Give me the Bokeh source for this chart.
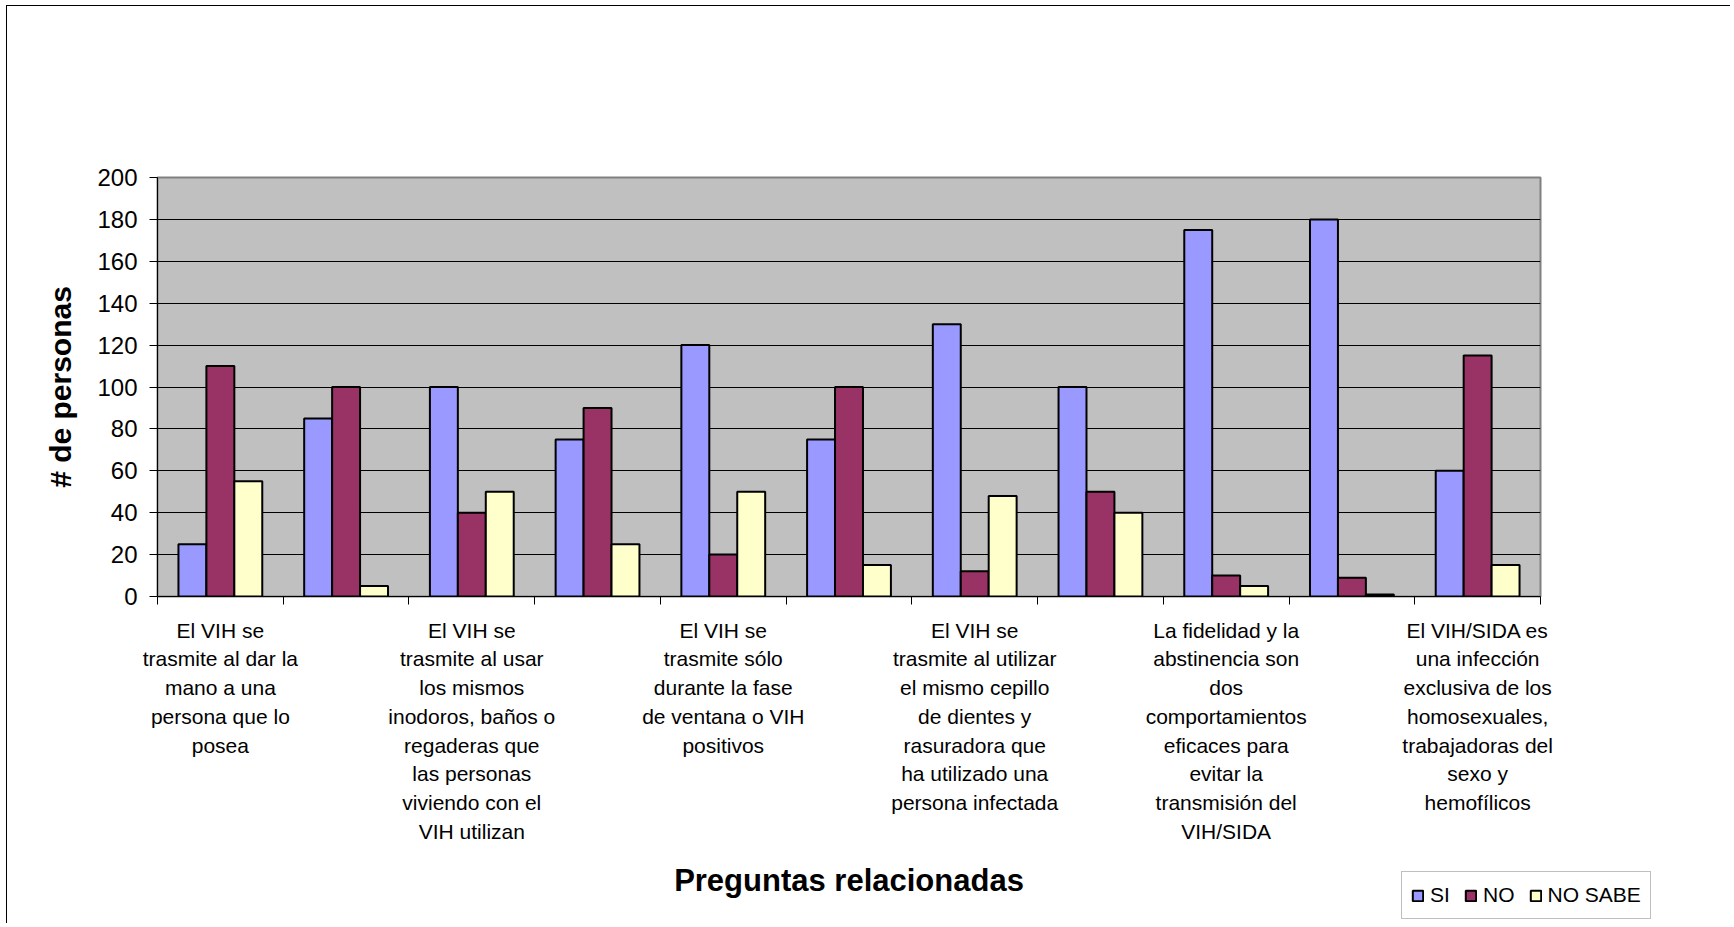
import numpy as np
from bokeh.plotting import figure
from bokeh.layouts import column
from bokeh.models import Range1d, FixedTicker, Legend, LegendItem
from bokeh.embed import file_html
from bokeh.resources import INLINE

# ---- data -----------------------------------------------------------------
# 11 questions; the chart (Excel-style) only prints every other category label,
# the skipped labels are kept empty here.
CATEGORIES = [
    "El VIH se\ntrasmite al dar la\nmano a una\npersona que lo\nposea",
    "",
    "El VIH se\ntrasmite al usar\nlos mismos\ninodoros, baños o\nregaderas que\nlas personas\nviviendo con el\nVIH utilizan",
    "",
    "El VIH se\ntrasmite sólo\ndurante la fase\nde ventana o VIH\npositivos",
    "",
    "El VIH se\ntrasmite al utilizar\nel mismo cepillo\nde dientes y\nrasuradora que\nha utilizado una\npersona infectada",
    "",
    "La fidelidad y la\nabstinencia son\ndos\ncomportamientos\neficaces para\nevitar la\ntransmisión del\nVIH/SIDA",
    "",
    "El VIH/SIDA es\nuna infección\nexclusiva de los\nhomosexuales,\ntrabajadoras del\nsexo y\nhemofílicos",
]
SERIES = ["SI", "NO", "NO SABE"]
SI = [25, 85, 100, 75, 120, 75, 130, 100, 175, 180, 60]
NO = [110, 100, 40, 90, 20, 100, 12, 50, 10, 9, 115]
NO_SABE = [55, 5, 50, 25, 50, 15, 48, 40, 5, 1, 15]
Y_TICKS = [0, 20, 40, 60, 80, 100, 120, 140, 160, 180, 200]
Y_LABEL = "# de personas"
X_LABEL = "Preguntas relacionadas"

COLORS = ["#9999FF", "#993366", "#FFFFCC"]
FONT = "Liberation Sans"

n = len(CATEGORIES)
idx = np.arange(n)
bar_w = 1.0 / 4.5          # 3 bars + gap width 150 %

W, H = 1724, 918
p = figure(
    width=W, height=H,
    x_range=Range1d(-0.5, n - 0.5), y_range=Range1d(0, 200),
    output_backend="svg", toolbar_location=None,
    min_border_left=150, min_border_right=191,
    min_border_top=171, min_border_bottom=328,
    background_fill_color="#C0C0C0", border_fill_color="white",
    styles={"border-left": "1px solid #000000", "border-top": "1px solid #000000",
            "margin-left": "6px", "margin-top": "5px"},
)
p.outline_line_color = "#808080"
p.outline_line_width = 2
p.xgrid.visible = False
p.ygrid.grid_line_color = "black"
p.ygrid.grid_line_width = 1
p.ygrid.ticker = FixedTicker(ticks=Y_TICKS)

for k, (vals, col) in enumerate(zip([SI, NO, NO_SABE], COLORS)):
    p.vbar(x=idx + (k - 1) * bar_w, top=vals, bottom=0, width=bar_w,
           fill_color=col, line_color="black", line_width=2)

# y axis
ya = p.yaxis[0]
ya.ticker = FixedTicker(ticks=Y_TICKS)
ya.axis_line_color = "black"
ya.major_tick_out = 8
ya.major_tick_in = 0
ya.minor_tick_line_color = None
ya.major_label_text_font = FONT
ya.major_label_text_font_size = "24px"
ya.major_label_text_color = "black"
ya.major_label_standoff = 12
ya.axis_label = Y_LABEL
ya.axis_label_text_font = FONT
ya.axis_label_text_font_size = "30px"
ya.axis_label_text_font_style = "bold"
ya.axis_label_text_color = "black"
ya.axis_label_standoff = 17

# x axis: boundary tick marks as minor ticks, labels on shown categories
shown = [i for i, c in enumerate(CATEGORIES) if c]
xa = p.xaxis[0]
xa.ticker = FixedTicker(ticks=shown, minor_ticks=[i - 0.5 for i in range(n + 1)])
xa.major_label_overrides = {i: CATEGORIES[i] for i in shown}
xa.axis_line_color = "black"
xa.major_tick_line_color = None
xa.major_tick_out = 0
xa.major_tick_in = 0
xa.minor_tick_line_color = "black"
xa.minor_tick_out = 8
xa.minor_tick_in = 0
xa.major_label_standoff = 14
xa.major_label_text_font = FONT
xa.major_label_text_font_size = "21px"
xa.major_label_text_color = "black"
xa.major_label_text_align = "center"
xa.major_label_text_line_height = 1.25
xa.axis_label = X_LABEL
xa.axis_label_text_font = FONT
xa.axis_label_text_font_size = "31px"
xa.axis_label_text_font_style = "bold"
xa.axis_label_text_color = "black"
xa.axis_label_standoff = 17

# ---- legend: a transparent full-width strip overlaid on the bottom ---------
leg = figure(
    frame_width=W, frame_height=50,
    x_range=Range1d(-0.5, n - 0.5), y_range=Range1d(0, 200),
    x_axis_type=None, y_axis_type=None,
    output_backend="svg", toolbar_location=None,
    min_border=0, min_border_left=0, min_border_right=0,
    min_border_top=0, min_border_bottom=0,
    background_fill_color=None, border_fill_color=None, outline_line_color=None,
    styles={"margin-top": "-52px", "margin-left": "7px"},
)
leg.xgrid.visible = False
leg.ygrid.visible = False
items = []
for k, (s, vals, col) in enumerate(zip(SERIES, [SI, NO, NO_SABE], COLORS)):
    r = leg.vbar(x=idx + (k - 1) * bar_w, top=vals, bottom=0, width=bar_w,
                 fill_color=col, line_color="black", line_width=2, visible=False)
    items.append(LegendItem(label=s, renderers=[r]))
legend = Legend(
    items=items, orientation="horizontal", location=(1394, 2),
    label_text_font=FONT, label_text_font_size="21px", label_text_color="black",
    glyph_width=13, glyph_height=13, label_standoff=6, spacing=14,
    label_height=28, padding=9, margin=0,
    border_line_color="#808080", border_line_width=1.5,
    background_fill_color="white",
    inactive_fill_alpha=0.0,
)
leg.add_layout(legend, "center")

layout = column(p, leg, spacing=0)
open("out.html", "w").write(file_html(layout, INLINE))
